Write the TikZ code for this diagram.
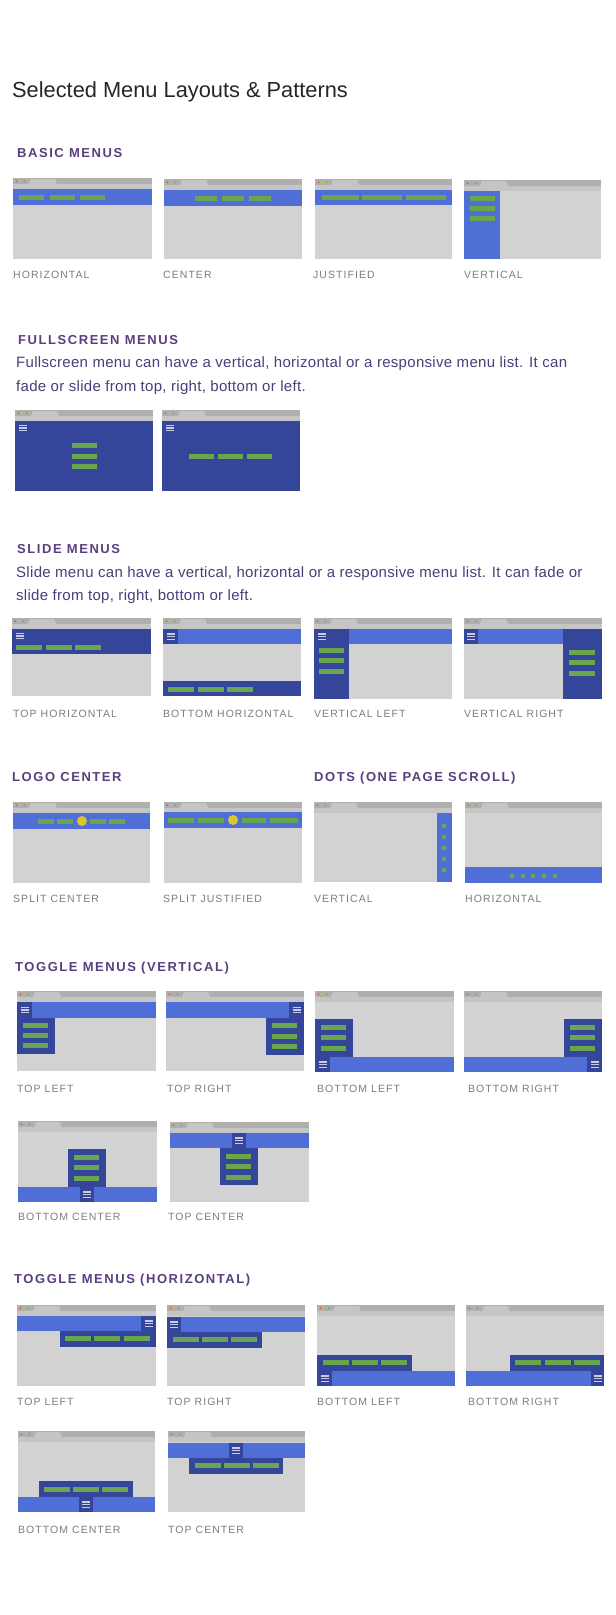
\documentclass[tikz,border=0pt]{standalone}
\usepackage{fontspec}
\setmainfont{Liberation Sans}
\newfontfamily\capsfont[LetterSpace=12]{Liberation Sans}
\newfontfamily\lblfont[LetterSpace=10]{Liberation Sans}
\newfontfamily\parafont[LetterSpace=2]{Liberation Sans}
\definecolor{navblue}{HTML}{4F6FD6}
\definecolor{navdark}{HTML}{35459A}
\definecolor{menugreen}{HTML}{6AA64F}
\definecolor{pagegray}{HTML}{D2D2D2}
\definecolor{tabgray}{HTML}{B0AFAF}
\definecolor{bargray}{HTML}{C5C5C5}
\definecolor{headpurple}{HTML}{5A3F7E}
\definecolor{parapurple}{HTML}{4E3C7A}
\definecolor{lblgray}{HTML}{7D7D7D}
\definecolor{titlegray}{HTML}{262626}
\definecolor{logoyellow}{HTML}{DCC62C}
\definecolor{burgerline}{HTML}{C8CCE6}
\definecolor{dotred}{HTML}{D04A3C}
\definecolor{dotyellow}{HTML}{D8B52C}
\definecolor{dotgreen}{HTML}{5FA052}
\tikzset{
  title/.style={anchor=base west,inner sep=0,text=titlegray,font=\fontsize{21.8}{26}\selectfont},
  head/.style={anchor=base west,inner sep=0,text=headpurple,font=\capsfont\bfseries\fontsize{13}{15}\selectfont},
  para/.style={anchor=base west,inner sep=0,text=parapurple,font=\parafont\fontsize{15}{17}\selectfont},
  lbl/.style={anchor=base west,inner sep=0,text=lblgray,font=\lblfont\fontsize{10.5}{12}\selectfont},
  burgerstroke/.style={burgerline,line width=1.2pt},
}
% browser frame at the scope origin: width, height
\newcommand{\browser}[2]{%
  \fill[pagegray] (0,0) rectangle (#1,#2);
  \fill[tabgray] (0,0) rectangle (#1,6);
  \fill[bargray] (0,6) rectangle (#1,11);
  \fill[bargray] (16,6) -- (18,1) -- (42,1) -- (44,6) -- cycle;
  \fill[dotred] (3.5,3.2) circle (0.9);
  \fill[dotyellow] (7.5,3.2) circle (0.9);
  \fill[dotgreen] (11.5,3.2) circle (0.9);
}
\newcommand{\menubar}[3]{\fill[menugreen] (#1,#2) rectangle ++(#3,5);}
\newcommand{\burger}[2]{\foreach \k in {-2.6,0,2.6}{\draw[burgerstroke] ({#1-4},{#2+\k}) -- ({#1+4},{#2+\k});}}
\begin{document}
\begin{tikzpicture}[x=1pt,y=-1pt]
\useasboundingbox[fill=white] (0,0) rectangle (616,1615);
\node[title] (title) at (12,97) {Selected Menu Layouts \& Patterns};

% basic menus
\node[head] (basic) at (17,157) {BASIC MENUS};
\begin{scope}[shift={(13,178)}]
  \browser{139}{81}
  \fill[navblue] (0,11) rectangle (139,27);
  \foreach \mx in {6,37,67} {\menubar{\mx}{17}{25}}
\end{scope}
\begin{scope}[shift={(164,179)}]
  \browser{138}{80}
  \fill[navblue] (0,11) rectangle (138,27);
  \foreach \mx in {31,58,85} {\menubar{\mx}{17}{22}}
\end{scope}
\begin{scope}[shift={(315,179)}]
  \browser{137}{80}
  \fill[navblue] (0,11) rectangle (137,26);
  \menubar{7}{16}{37} \menubar{47}{16}{40} \menubar{91}{16}{40}
\end{scope}
\begin{scope}[shift={(464,180)}]
  \browser{137}{79}
  \fill[navblue] (0,11) rectangle (36,79);
  \foreach \my in {16,26,36} {\menubar{6}{\my}{25}}
\end{scope}
\node[lbl] (l-horiz) at (13,278) {HORIZONTAL};
\node[lbl] (l-center) at (163,278) {CENTER};
\node[lbl] (l-just) at (313,278) {JUSTIFIED};
\node[lbl] (l-vert) at (464,278) {VERTICAL};

% fullscreen menus
\node[head] (full) at (18,344) {FULLSCREEN MENUS};
\node[para] (full-1) at (16,367) {Fullscreen menu can have a vertical, horizontal or a responsive menu list. It can};
\node[para] (full-2) at (16,391) {fade or slide from top, right, bottom or left.};
\begin{scope}[shift={(15,410)}]
  \browser{138}{81}
  \fill[navdark] (0,11) rectangle (138,81);
  \burger{8}{18}
  \foreach \my in {33,43.5,54} {\menubar{57}{\my}{25}}
\end{scope}
\begin{scope}[shift={(162,410)}]
  \browser{138}{81}
  \fill[navdark] (0,11) rectangle (138,81);
  \burger{8}{18}
  \foreach \mx in {27,56,85} {\menubar{\mx}{44}{25}}
\end{scope}

% slide menus
\node[head] (slide) at (17,553) {SLIDE MENUS};
\node[para] (slide-1) at (16,577) {Slide menu can have a vertical, horizontal or a responsive menu list. It can fade or};
\node[para] (slide-2) at (16,600) {slide from top, right, bottom or left.};
\begin{scope}[shift={(12,618)}]
  \browser{139}{78}
  \fill[navdark] (0,11) rectangle (139,36);
  \burger{8}{18}
  \foreach \mx in {4,34,63} {\menubar{\mx}{27}{26}}
\end{scope}
\begin{scope}[shift={(163,618)}]
  \browser{138}{78}
  \fill[navblue] (0,11) rectangle (138,26);
  \fill[navdark] (0,11) rectangle (15,26);
  \burger{7.5}{18.5}
  \fill[navdark] (0,63) rectangle (138,78);
  \foreach \mx in {5,35,64} {\menubar{\mx}{69}{26}}
\end{scope}
\begin{scope}[shift={(314,618)}]
  \browser{138}{81}
  \fill[navblue] (35,11) rectangle (138,26);
  \fill[navdark] (0,11) rectangle (35,81);
  \burger{8}{18.5}
  \foreach \my in {30,40,51} {\menubar{5}{\my}{25}}
\end{scope}
\begin{scope}[shift={(464,618)}]
  \browser{138}{81}
  \fill[navblue] (0,11) rectangle (138,26);
  \fill[navdark] (0,11) rectangle (14,26);
  \fill[navdark] (99,11) rectangle (138,81);
  \burger{7}{18.5}
  \foreach \my in {32,42,53} {\menubar{105}{\my}{26}}
\end{scope}
\node[lbl] (l-tophoriz) at (13,717) {TOP HORIZONTAL};
\node[lbl] (l-bothoriz) at (163,717) {BOTTOM HORIZONTAL};
\node[lbl] (l-vleft) at (314,717) {VERTICAL LEFT};
\node[lbl] (l-vright) at (464,717) {VERTICAL RIGHT};

% logo center and dots
\node[head] (logo) at (12,781) {LOGO CENTER};
\node[head] (dots) at (314,781) {DOTS (ONE PAGE SCROLL)};
\begin{scope}[shift={(13,802)}]
  \browser{137}{81}
  \fill[navblue] (0,11) rectangle (137,27);
  \foreach \mx in {25,44,77,96} {\menubar{\mx}{17}{16}}
  \fill[logoyellow] (69,19) circle (5);
\end{scope}
\begin{scope}[shift={(164,802)}]
  \browser{138}{81}
  \fill[navblue] (0,10) rectangle (138,26);
  \menubar{4}{16}{26} \menubar{34}{16}{26} \menubar{78}{16}{24} \menubar{106}{16}{28}
  \fill[logoyellow] (69,18) circle (5);
\end{scope}
\begin{scope}[shift={(314,802)}]
  \browser{138}{80}
  \fill[navblue] (123,11) rectangle (138,80);
  \foreach \my in {24,35,46,57,68} {\fill[menugreen] (130,\my) circle (2.4);}
\end{scope}
\begin{scope}[shift={(465,802)}]
  \browser{137}{81}
  \fill[navblue] (0,65) rectangle (137,81);
  \foreach \mx in {47,58,68,79,90} {\fill[menugreen] (\mx,74) circle (2.4);}
\end{scope}
\node[lbl] (l-splitc) at (13,902) {SPLIT CENTER};
\node[lbl] (l-splitj) at (163,902) {SPLIT JUSTIFIED};
\node[lbl] (l-dotv) at (314,902) {VERTICAL};
\node[lbl] (l-doth) at (465,902) {HORIZONTAL};

% toggle menus, vertical
\node[head] (togv) at (15,971) {TOGGLE MENUS (VERTICAL)};
\begin{scope}[shift={(17,991)}]
  \browser{139}{80}
  \fill[navblue] (0,11) rectangle (139,27);
  \fill[navdark] (0,11) rectangle (15,27);
  \fill[navdark] (0,27) rectangle (38,63);
  \burger{8}{19}
  \foreach \my in {32,42,52} {\menubar{6}{\my}{25}}
\end{scope}
\begin{scope}[shift={(166,991)}]
  \browser{138}{80}
  \fill[navblue] (0,11) rectangle (138,27);
  \fill[navdark] (123,11) rectangle (138,27);
  \fill[navdark] (100,27) rectangle (138,64);
  \burger{130.5}{19}
  \foreach \my in {32,43,53} {\menubar{106}{\my}{25}}
\end{scope}
\begin{scope}[shift={(315,991)}]
  \browser{139}{81}
  \fill[navblue] (0,66) rectangle (139,81);
  \fill[navdark] (0,66) rectangle (15,81);
  \fill[navdark] (0,28) rectangle (38,66);
  \burger{7.5}{73.5}
  \foreach \my in {34,44,55} {\menubar{6}{\my}{25}}
\end{scope}
\begin{scope}[shift={(464,991)}]
  \browser{138}{81}
  \fill[navblue] (0,66) rectangle (138,81);
  \fill[navdark] (123,66) rectangle (138,81);
  \fill[navdark] (100,28) rectangle (138,66);
  \burger{130.5}{73.5}
  \foreach \my in {34,44,55} {\menubar{106}{\my}{25}}
\end{scope}
\node[lbl] (l-vtl) at (17,1092) {TOP LEFT};
\node[lbl] (l-vtr) at (167,1092) {TOP RIGHT};
\node[lbl] (l-vbl) at (317,1092) {BOTTOM LEFT};
\node[lbl] (l-vbr) at (468,1092) {BOTTOM RIGHT};
\begin{scope}[shift={(18,1121)}]
  \browser{139}{81}
  \fill[navblue] (0,66) rectangle (139,81);
  \fill[navdark] (62,66) rectangle (76,81);
  \fill[navdark] (50,28) rectangle (88,66);
  \burger{69}{73.5}
  \foreach \my in {34,44,55} {\menubar{56}{\my}{25}}
\end{scope}
\begin{scope}[shift={(170,1122)}]
  \browser{139}{80}
  \fill[navblue] (0,11) rectangle (139,26);
  \fill[navdark] (62,11) rectangle (76,26);
  \fill[navdark] (50,26) rectangle (88,63);
  \burger{69}{18.5}
  \foreach \my in {32,42,53} {\menubar{56}{\my}{25}}
\end{scope}
\node[lbl] (l-vbc) at (18,1220) {BOTTOM CENTER};
\node[lbl] (l-vtc) at (168,1220) {TOP CENTER};

% toggle menus, horizontal
\node[head] (togh) at (14,1283) {TOGGLE MENUS (HORIZONTAL)};
\begin{scope}[shift={(17,1305)}]
  \browser{139}{81}
  \fill[navblue] (0,11) rectangle (139,26);
  \fill[navdark] (124,11) rectangle (139,26);
  \fill[navdark] (43,26) rectangle (139,42);
  \burger{131.5}{18.5}
  \foreach \mx in {48,77,107} {\menubar{\mx}{31}{26}}
\end{scope}
\begin{scope}[shift={(167,1305)}]
  \browser{138}{81}
  \fill[navblue] (0,12) rectangle (138,27);
  \fill[navdark] (0,12) rectangle (14,27);
  \fill[navdark] (0,27) rectangle (95,43);
  \burger{7}{19.5}
  \foreach \mx in {6,35,64} {\menubar{\mx}{32}{26}}
\end{scope}
\begin{scope}[shift={(317,1305)}]
  \browser{138}{81}
  \fill[navblue] (0,66) rectangle (138,81);
  \fill[navdark] (0,66) rectangle (15,81);
  \fill[navdark] (0,50) rectangle (95,66);
  \burger{7.5}{73.5}
  \foreach \mx in {6,35,64} {\menubar{\mx}{55}{26}}
\end{scope}
\begin{scope}[shift={(466,1305)}]
  \browser{138}{81}
  \fill[navblue] (0,66) rectangle (138,81);
  \fill[navdark] (125,66) rectangle (138,81);
  \fill[navdark] (44,50) rectangle (138,66);
  \burger{131.5}{73.5}
  \foreach \mx in {49,79,108} {\menubar{\mx}{55}{26}}
\end{scope}
\node[lbl] (l-htl) at (17,1405) {TOP LEFT};
\node[lbl] (l-htr) at (167,1405) {TOP RIGHT};
\node[lbl] (l-hbl) at (317,1405) {BOTTOM LEFT};
\node[lbl] (l-hbr) at (468,1405) {BOTTOM RIGHT};
\begin{scope}[shift={(18,1431)}]
  \browser{137}{81}
  \fill[navblue] (0,66) rectangle (137,81);
  \fill[navdark] (61,66) rectangle (75,81);
  \fill[navdark] (21,50) rectangle (115,66);
  \burger{68}{73.5}
  \foreach \mx in {26,55,84} {\menubar{\mx}{56}{26}}
\end{scope}
\begin{scope}[shift={(168,1431)}]
  \browser{137}{81}
  \fill[navblue] (0,12) rectangle (137,27);
  \fill[navdark] (61,12) rectangle (75,27);
  \fill[navdark] (21,27) rectangle (115,43);
  \burger{68}{19.5}
  \foreach \mx in {27,56,85} {\menubar{\mx}{32}{26}}
\end{scope}
\node[lbl] (l-hbc) at (18,1533) {BOTTOM CENTER};
\node[lbl] (l-htc) at (168,1533) {TOP CENTER};
\end{tikzpicture}
\end{document}
